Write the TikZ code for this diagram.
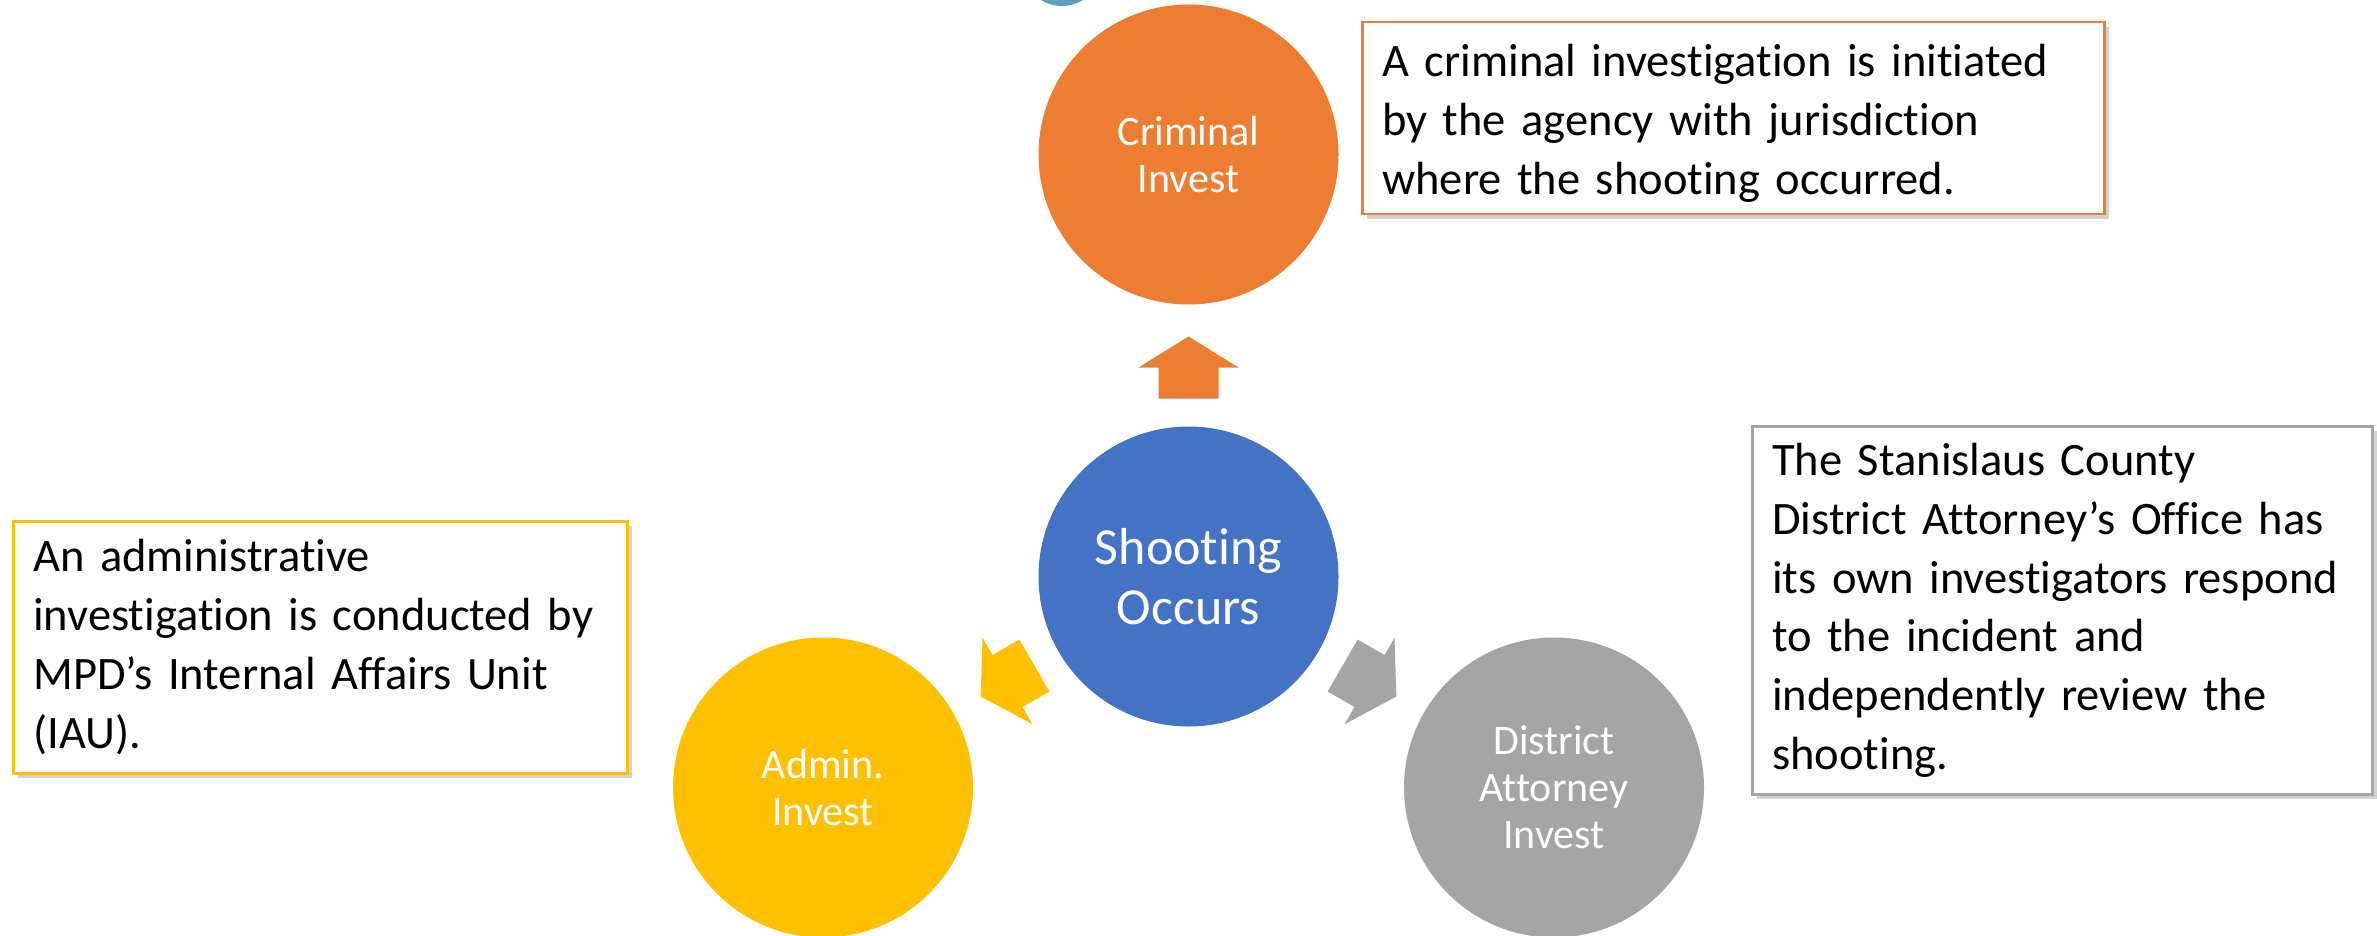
\documentclass[tikz,border=0pt]{standalone}
\usepackage{fontspec}
\setmainfont{Carlito}[Ligatures=NoCommon]
\usetikzlibrary{shadows}
\hyphenpenalty=10000
\definecolor{critorange}{HTML}{ED7D31}
\definecolor{shootblue}{HTML}{4472C4}
\definecolor{adminyellow}{HTML}{FFC000}
\definecolor{dagray}{HTML}{A5A5A5}
\definecolor{topteal}{HTML}{5F9EBB}
\tikzset{
  disc/.style={circle, fill=#1, minimum size=300pt, inner sep=0pt, text=white, align=center, font=\fontsize{42}{47}\selectfont},
  notebox/.style={draw=#1, line width=2.5pt, fill=white, anchor=north west, align=left, inner xsep=20pt, inner ysep=0pt, font=\fontsize{46.5}{58.8}\selectfont, drop shadow={shadow xshift=5pt, shadow yshift=-5pt, opacity=0.35}},
}
\begin{document}
\begin{tikzpicture}[x=1pt,y=-1pt]
\clip (0,0) rectangle (2377,936);
\fill[white] (0,0) rectangle (2377,936);
% piece of the next circle, cut off at the top
\fill[topteal] (1062,-34) circle[radius=40];
\node[disc=shootblue, font=\fontsize{52}{60}\selectfont] (shoot) at (1188.5,576.5) {Shooting\\Occurs};
\node[disc=critorange] (crim) at (1188.5,154.5) {Criminal\\Invest};
\node[disc=adminyellow] (admin) at (823,787.5) {Admin.\\Invest};
\node[disc=dagray] (da) at (1554,787.5) {District\\Attorney\\Invest};
% block arrows out of the centre
\foreach \rot/\col in {0/critorange, 120/adminyellow, -120/dagray}{
  \begin{scope}[shift={(shoot.center)}, rotate=\rot]
    \fill[\col] (0,-240) -- (50,-209) -- (30,-209) -- (30,-178) -- (-30,-178) -- (-30,-209) -- (-50,-209) -- cycle;
  \end{scope}
}
% notes
\node[notebox=critorange, text width=702pt, minimum height=192pt, text depth=115pt] (crimnote) at (1361,21)
  {A criminal investigation is initiated\\by the agency with jurisdiction\\where the shooting occurred.};
\node[notebox=adminyellow, text width=574pt, minimum height=252pt] (adminnote) at (12,520)
  {An administrative\\investigation is conducted by\\MPD’s Internal Affairs Unit\\(IAU).};
\node[notebox=dagray, text width=580pt, minimum height=368pt] (danote) at (1751,425)
  {The Stanislaus County\\District Attorney’s Office has\\its own investigators respond\\to the incident and\\independently review the\\shooting.};
\end{tikzpicture}
\end{document}
